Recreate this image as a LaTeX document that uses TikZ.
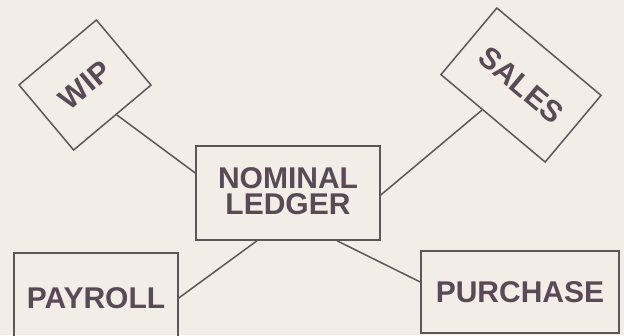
\documentclass[tikz,border=0pt]{standalone}
\usepackage{fontspec}
\setmainfont{Liberation Sans}
\usetikzlibrary{calc}
\definecolor{bg}{HTML}{F3EDE8}
\definecolor{ink}{HTML}{5C5658}
\definecolor{txt}{HTML}{5A4A57}
\tikzset{
  box/.style={draw=ink, line width=1.5pt, text=txt, inner sep=0pt,
    font=\fontsize{30}{26}\selectfont\bfseries, align=center},
  link/.style={draw=ink, line width=1.5pt}
}
\begin{document}
\begin{tikzpicture}[x=1pt,y=1pt]
\fill[bg] (0,0) rectangle (624,-335);
\clip (0,0) rectangle (624,-335);
\node[box, minimum width=101, minimum height=85, rotate=40] (wip) at (85,-85) {WIP};
\node[box, minimum width=136, minimum height=87, rotate=-40] (sales) at (521,-85) {SALES};
\node[box, minimum width=184, minimum height=94, text depth=4pt] (nom) at (288,-193) {NOMINAL\\LEDGER};
\node[box, minimum width=164, minimum height=90] (pay) at (96,-298) {PAYROLL};
\node[box, minimum width=198, minimum height=82] (pur) at (520,-292) {PURCHASE};
\draw[link] ($(wip.south)!0.1!(wip.south east)$) -- ([yshift=20]nom.west);
\draw[link] ($(sales.south)!0.2!(sales.south west)$) -- ([yshift=-2]nom.east);
\draw[link] ([xshift=-31]nom.south) -- (pay.east);
\draw[link] ([xshift=49]nom.south) -- ([yshift=10]pur.west);
\end{tikzpicture}
\end{document}
